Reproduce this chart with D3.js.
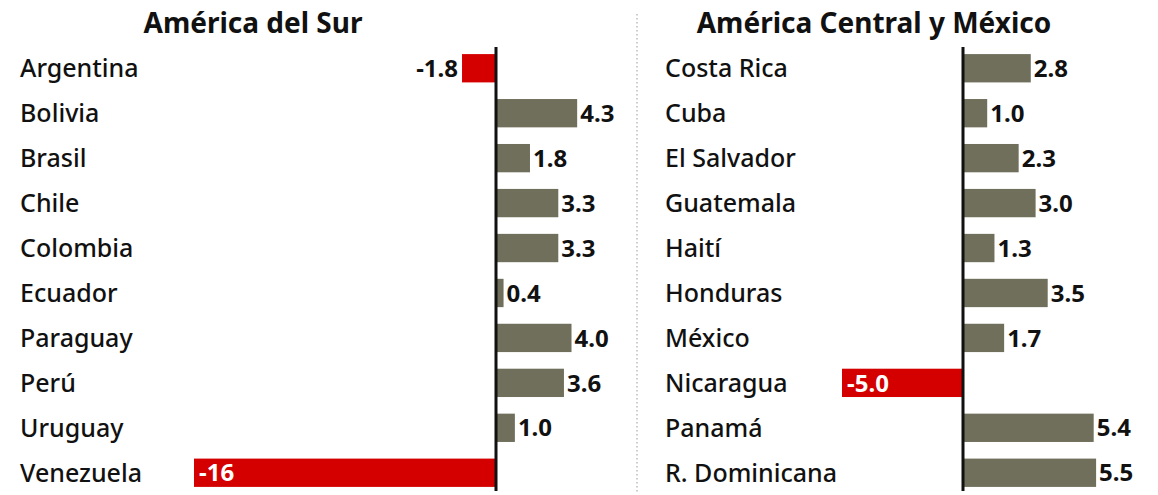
<!DOCTYPE html>
<html><head><meta charset="utf-8">
<script src="https://cdn.jsdelivr.net/npm/d3@7"></script>
<style>body{margin:0;background:#fff}svg{display:block}</style>
</head><body><svg id="c" width="1158" height="495"></svg>
<script>
const titleSur = "América del Sur";
const countriesSur = ["Argentina","Bolivia","Brasil","Chile","Colombia","Ecuador","Paraguay","Perú","Uruguay","Venezuela"];
const valuesSur = [-1.8, 4.3, 1.8, 3.3, 3.3, 0.4, 4.0, 3.6, 1.0, -16];
const labelsSur = ["-1.8","4.3","1.8","3.3","3.3","0.4","4.0","3.6","1.0","-16"];

const titleCen = "América Central y México";
const countriesCen = ["Costa Rica","Cuba","El Salvador","Guatemala","Haití","Honduras","México","Nicaragua","Panamá","R. Dominicana"];
const valuesCen = [2.8, 1.0, 2.3, 3.0, 1.3, 3.5, 1.7, -5.0, 5.4, 5.5];
const labelsCen = ["2.8","1.0","2.3","3.0","1.3","3.5","1.7","-5.0","5.4","5.5"];

const svg = d3.select("#c");
const FONT = "'Noto Sans', sans-serif";
const GRAY = "#6f6f5b", RED = "#d40000";

function panel(cfg){
  const g = svg.append("g");
  const x = d3.scaleLinear().domain(cfg.domain).range(cfg.range);
  const y = d3.scaleBand().domain(cfg.cats).range([46, 495]).paddingInner(0.37).paddingOuter(0.18);
  g.append("text").attr("x", cfg.titleX).attr("y", 33).attr("text-anchor","middle")
    .attr("font-family",FONT).attr("font-weight",700).attr("font-size",28).attr("fill","#111").text(cfg.title);
  g.selectAll("text.lab").data(cfg.cats).join("text").attr("class","lab")
    .attr("x", cfg.labelX).attr("y", d => y(d)+y.bandwidth()/2).attr("dy","0.36em")
    .attr("font-family",FONT).attr("font-weight",500).attr("font-size",25).attr("fill","#111").text(d=>d);
  const data = cfg.cats.map((c,i)=>({c, v:cfg.values[i], t:cfg.labels[i]}));
  g.selectAll("rect").data(data).join("rect")
    .attr("x", d => Math.min(x(d.v), x(0)))
    .attr("width", d => Math.abs(x(d.v)-x(0)))
    .attr("y", d => y(d.c)).attr("height", y.bandwidth())
    .attr("fill", d => d.v < 0 ? RED : GRAY);
  g.selectAll("text.val").data(data).join("text").attr("class","val")
    .attr("x", d => d.v >= 0 ? x(d.v)+3 : (d.v < -3 ? x(d.v)+5 : x(d.v)-4))
    .attr("text-anchor", d => (d.v < 0 && d.v >= -3) ? "end" : "start")
    .attr("y", d => y(d.c)+y.bandwidth()/2).attr("dy","0.36em")
    .attr("font-family",FONT).attr("font-weight",700).attr("font-size",24)
    .attr("fill", d => d.v < -3 ? "#fff" : "#111").text(d=>d.t);
  g.append("line").attr("x1",x(0)).attr("x2",x(0)).attr("y1",47).attr("y2",491)
    .attr("stroke","#111").attr("stroke-width",3);
}

panel({title:titleSur, titleX:253, labelX:20, cats:countriesSur, values:valuesSur, labels:labelsSur,
  domain:[-16,0], range:[194,496]});
panel({title:titleCen, titleX:874, labelX:665, cats:countriesCen, values:valuesCen, labels:labelsCen,
  domain:[-5,0], range:[842,963]});

svg.append("line").attr("x1",637).attr("x2",637).attr("y1",14).attr("y2",492)
  .attr("stroke","#999").attr("stroke-width",1).attr("stroke-dasharray","1.5,2.5");
</script></body></html>
